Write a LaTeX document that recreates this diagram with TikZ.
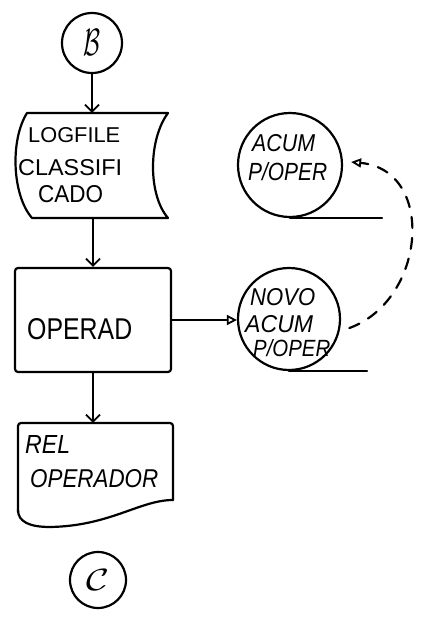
\documentclass[tikz,border=0pt]{standalone}
\usepackage{fontspec}
\setmainfont{Liberation Sans}
\usepackage{graphicx}
\usetikzlibrary{arrows.meta}
% hand-lettered label squeezed into a given width and cap height
\newcommand\hand[3]{\resizebox{#1pt}{#2pt}{#3}}
\begin{document}
\begin{tikzpicture}[x=1pt,y=1pt,
  ink/.style={line width=2.2pt, line join=round, line cap=round},
  circ/.style={ink, draw, circle, inner sep=0pt},
  holder/.style={rectangle, inner sep=0pt},
  lbl/.style={anchor=base west, inner sep=0pt},
  flow/.style={ink, -{Straight Barb[length=7pt,width=14pt,line width=1.8pt]}},
  data/.style={ink, -{Triangle[open,length=10pt,width=10pt,line width=1.8pt]}},
  feedback/.style={ink, dash pattern=on 11pt off 10pt,
    -{Triangle[open,length=10pt,width=9pt,line width=1.8pt]}}]
\useasboundingbox (0,0) rectangle (427,-620);
\fill[white] (0,0) rectangle (427,-620);

% off-page connectors
\node[circ, minimum size=60pt] (b) at (92,-43) {\hand{17}{26}{$\mathcal{B}$}};
\node[circ, minimum size=56pt] (c) at (98,-580) {\hand{23}{21}{$\mathcal{C}$}};

% LOGFILE CLASSIFICADO (stored data)
\node[holder, minimum width=154pt, minimum height=105pt] (lf) at (91,-165.5) {};
\draw[ink] (27,-113) -- (168,-113)
  .. controls (148,-140) and (148,-195) .. (168,-218) -- (32,-218)
  .. controls (12,-195) and (10,-140) .. (27,-113) -- cycle;
\node[lbl] (t1) at (28,-143) {\hand{92}{15}{LOGFILE}};
\node[lbl] (t2) at (18,-176) {\hand{104}{16}{CLASSIFI}};
\node[lbl] (t3) at (38,-203) {\hand{65}{17}{CADO}};

% OPERAD (process)
\node[ink, draw, rectangle, rounded corners=3pt, minimum width=156pt,
  minimum height=104pt, inner sep=0pt] (op) at (93,-320) {};
\node[lbl] (t4) at (27,-339) {\hand{105}{21}{OPERAD}};

% REL OPERADOR (document)
\node[holder, minimum width=155pt, minimum height=104pt] (rel) at (95.5,-475) {};
\draw[ink, rounded corners=3pt] (18,-512) -- (18,-423) -- (173,-423) -- (173,-500);
\draw[ink] (173,-500) .. controls (140,-500) and (110,-526) .. (50,-527)
  .. controls (30,-527) and (18,-522) .. (18,-510);
\node[lbl] (t5) at (25,-453) {\hand{45}{18}{\itshape REL}};
\node[lbl] (t6) at (30,-487) {\hand{128}{18}{\itshape OPERADOR}};

% ACUM P/OPER (on-line storage, old)
\node[circ, minimum size=104pt] (ac) at (290,-165) {};
\draw[ink] (ac.south) -- ++(92,0);
\node[lbl] (t7) at (252,-152) {\hand{63}{17}{\itshape ACUM}};
\node[lbl] (t8) at (248,-181) {\hand{79}{18}{\itshape P/OPER}};

% NOVO ACUM P/OPER (on-line storage, new)
\node[circ, minimum size=102pt] (nv) at (289,-319) {};
\draw[ink] (nv.south) -- ++(78,0);
\node[lbl] (t9) at (250,-305) {\hand{65}{17}{\itshape NOVO}};
\node[lbl] (t10) at (245,-332) {\hand{68}{17}{\itshape ACUM}};
\node[lbl] (t11) at (253,-356) {\hand{77}{17}{\itshape P/OPER}};

% flow lines
\draw[flow] (b.south) -- (b.south |- lf.north);
\draw[flow] (op.north |- lf.south) -- (op.north);
\draw[flow] (op.south) -- (op.south |- rel.north);
\draw[data] (op.east) -- (op.east -| nv.west);
\draw[feedback] ([xshift=9pt]nv.-10)
  .. controls +(77,28) and +(85,-8) .. ([shift={(8pt,3pt)}]ac.east);
\end{tikzpicture}
\end{document}
